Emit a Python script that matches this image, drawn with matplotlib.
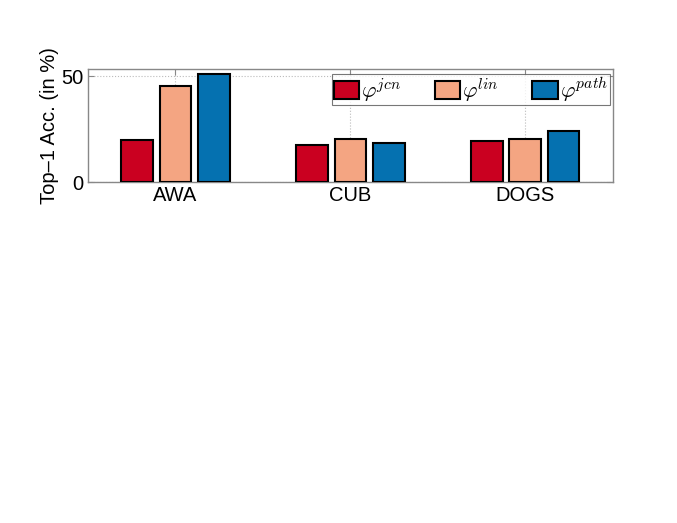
import matplotlib
matplotlib.use("Agg")
import matplotlib.pyplot as plt
import numpy as np

plt.rcParams['font.family'] = ['Liberation Sans', 'DejaVu Sans']
plt.rcParams['mathtext.fontset'] = 'cm'

categories = ["AWA", "CUB", "DOGS"]
series_labels = [r"$\varphi^{jcn}$", r"$\varphi^{lin}$", r"$\varphi^{path}$"]
jcn = [19.8, 17.5, 19.2]
lin = [45.3, 20.3, 20.1]
path = [51.0, 18.3, 24.2]
yticks = [0, 50]
colors = ["#ca0020", "#f4a582", "#0571b0"]

fig = plt.figure(figsize=(6.77, 5.23), dpi=100)
ax = fig.add_axes([0.130, 0.652, 0.775, 0.216])

x = np.arange(1, len(categories) + 1)
width = 0.18
offset = 0.22
for i, (vals, lab, c) in enumerate(zip([jcn, lin, path], series_labels, colors)):
    ax.bar(x + (i - 1) * offset, vals, width, color=c, edgecolor='black',
           linewidth=1.5, label=lab, zorder=3)

ax.set_xlim(0.5, 3.5)
ax.set_ylim(0, 53.3)
ax.set_xticks(x)
ax.set_xticklabels(categories, fontsize=14.5)
ax.set_yticks(yticks)
ax.set_yticklabels([str(t) for t in yticks], fontsize=14.5)
ax.set_ylabel("Top\u20131 Acc. (in %)", fontsize=14.5, labelpad=2)
ax.grid(True, linestyle=':', color='#bbbbbb', linewidth=0.8, zorder=0)
ax.tick_params(direction='in', top=True, right=True, length=4, color='#888888', pad=3)
for s in ax.spines.values():
    s.set_color('#888888')
    s.set_linewidth(1.0)

leg = ax.legend(loc='upper right', ncol=3, fontsize=16, frameon=True, fancybox=False,
                handlelength=1.15, handleheight=0.85, columnspacing=1.5, handletextpad=0.1,
                borderpad=0.05, bbox_to_anchor=(0.994, 0.955), borderaxespad=0)
leg.get_frame().set_edgecolor('#555555')
leg.get_frame().set_linewidth(0.8)

fig.savefig("out.png", dpi=100)
